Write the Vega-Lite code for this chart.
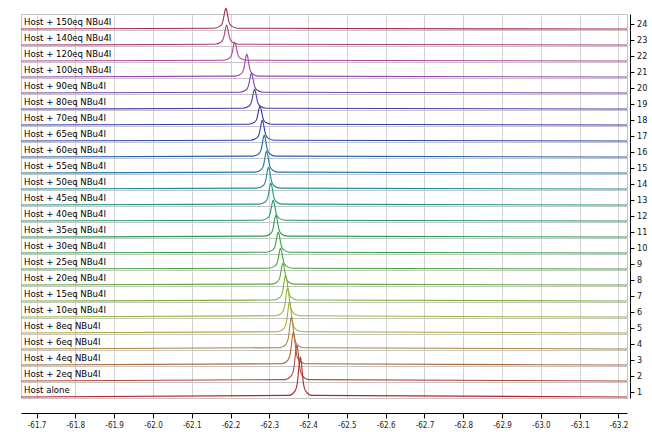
{
"$schema": "https://vega.github.io/schema/vega-lite/v6.json",
"padding": {"left": 18, "top": 5, "right": 0, "bottom": 0},
"bounds": "flush",
"config": {"view": {"stroke": "#c4c4c4"}, "font": "DejaVu Sans"},
"datasets": {
"traces": [
{"n":1,"label":"Host alone"},{"n":2,"label":"Host + 2eq NBu4I"},{"n":3,"label":"Host + 4eq NBu4I"},{"n":4,"label":"Host + 6eq NBu4I"},{"n":5,"label":"Host + 8eq NBu4I"},{"n":6,"label":"Host + 10eq NBu4I"},{"n":7,"label":"Host + 15eq NBu4I"},{"n":8,"label":"Host + 20eq NBu4I"},{"n":9,"label":"Host + 25eq NBu4I"},{"n":10,"label":"Host + 30eq NBu4I"},{"n":11,"label":"Host + 35eq NBu4I"},{"n":12,"label":"Host + 40eq NBu4I"},{"n":13,"label":"Host + 45eq NBu4I"},{"n":14,"label":"Host + 50eq NBu4I"},{"n":15,"label":"Host + 55eq NBu4I"},{"n":16,"label":"Host + 60eq NBu4I"},{"n":17,"label":"Host + 65eq NBu4I"},{"n":18,"label":"Host + 70eq NBu4I"},{"n":19,"label":"Host + 80eq NBu4I"},{"n":20,"label":"Host + 90eq NBu4I"},{"n":21,"label":"Host + 100eq NBu4I"},{"n":22,"label":"Host + 120eq NBu4I"},{"n":23,"label":"Host + 140eq NBu4I"},{"n":24,"label":"Host + 150eq NBu4I"}
],
"spectra": [
{"n":1,"p":-61.66,"v":0},{"n":1,"p":-62.35,"v":1.6},{"n":1,"p":-62.366,"v":5.9},{"n":1,"p":-62.372,"v":13.5},{"n":1,"p":-62.375,"v":24.4},{"n":1,"p":-62.3775,"v":34.5},{"n":1,"p":-62.38,"v":40},{"n":1,"p":-62.3825,"v":34.5},{"n":1,"p":-62.385,"v":24.4},{"n":1,"p":-62.388,"v":13.5},{"n":1,"p":-62.394,"v":5.9},{"n":1,"p":-62.41,"v":1.6},{"n":1,"p":-63.222,"v":0},
{"n":2,"p":-61.66,"v":0},{"n":2,"p":-62.341,"v":1.4},{"n":2,"p":-62.357,"v":5.3},{"n":2,"p":-62.363,"v":12.2},{"n":2,"p":-62.366,"v":22},{"n":2,"p":-62.3685,"v":31},{"n":2,"p":-62.371,"v":36},{"n":2,"p":-62.3735,"v":31},{"n":2,"p":-62.376,"v":22},{"n":2,"p":-62.379,"v":12.2},{"n":2,"p":-62.385,"v":5.3},{"n":2,"p":-62.401,"v":1.4},{"n":2,"p":-63.222,"v":0},
{"n":3,"p":-61.66,"v":0},{"n":3,"p":-62.332,"v":1.3},{"n":3,"p":-62.348,"v":4.9},{"n":3,"p":-62.354,"v":11.2},{"n":3,"p":-62.357,"v":20.1},{"n":3,"p":-62.3595,"v":28.4},{"n":3,"p":-62.362,"v":33},{"n":3,"p":-62.3645,"v":28.4},{"n":3,"p":-62.367,"v":20.1},{"n":3,"p":-62.37,"v":11.2},{"n":3,"p":-62.376,"v":4.9},{"n":3,"p":-62.392,"v":1.3},{"n":3,"p":-63.222,"v":0},
{"n":4,"p":-61.66,"v":0},{"n":4,"p":-62.327,"v":1.3},{"n":4,"p":-62.343,"v":4.7},{"n":4,"p":-62.349,"v":10.8},{"n":4,"p":-62.352,"v":19.5},{"n":4,"p":-62.3545,"v":27.6},{"n":4,"p":-62.357,"v":32},{"n":4,"p":-62.3595,"v":27.6},{"n":4,"p":-62.362,"v":19.5},{"n":4,"p":-62.365,"v":10.8},{"n":4,"p":-62.371,"v":4.7},{"n":4,"p":-62.387,"v":1.3},{"n":4,"p":-63.222,"v":0},
{"n":5,"p":-61.66,"v":0},{"n":5,"p":-62.322,"v":1.2},{"n":5,"p":-62.338,"v":4.6},{"n":5,"p":-62.344,"v":10.5},{"n":5,"p":-62.347,"v":18.9},{"n":5,"p":-62.3495,"v":26.7},{"n":5,"p":-62.352,"v":31},{"n":5,"p":-62.3545,"v":26.7},{"n":5,"p":-62.357,"v":18.9},{"n":5,"p":-62.36,"v":10.5},{"n":5,"p":-62.366,"v":4.6},{"n":5,"p":-62.382,"v":1.2},{"n":5,"p":-63.222,"v":0},
{"n":6,"p":-61.66,"v":0},{"n":6,"p":-62.317,"v":1.2},{"n":6,"p":-62.333,"v":4.3},{"n":6,"p":-62.339,"v":9.8},{"n":6,"p":-62.342,"v":17.7},{"n":6,"p":-62.3445,"v":25},{"n":6,"p":-62.347,"v":29},{"n":6,"p":-62.3495,"v":25},{"n":6,"p":-62.352,"v":17.7},{"n":6,"p":-62.355,"v":9.8},{"n":6,"p":-62.361,"v":4.3},{"n":6,"p":-62.377,"v":1.2},{"n":6,"p":-63.222,"v":0},
{"n":7,"p":-61.66,"v":0},{"n":7,"p":-62.312,"v":1},{"n":7,"p":-62.328,"v":3.8},{"n":7,"p":-62.334,"v":8.8},{"n":7,"p":-62.337,"v":15.9},{"n":7,"p":-62.3395,"v":22.4},{"n":7,"p":-62.342,"v":26},{"n":7,"p":-62.3445,"v":22.4},{"n":7,"p":-62.347,"v":15.9},{"n":7,"p":-62.35,"v":8.8},{"n":7,"p":-62.356,"v":3.8},{"n":7,"p":-62.372,"v":1},{"n":7,"p":-63.222,"v":0},
{"n":8,"p":-61.66,"v":0},{"n":8,"p":-62.305,"v":0.9},{"n":8,"p":-62.321,"v":3.3},{"n":8,"p":-62.327,"v":7.4},{"n":8,"p":-62.33,"v":13.4},{"n":8,"p":-62.3325,"v":19},{"n":8,"p":-62.335,"v":22},{"n":8,"p":-62.3375,"v":19},{"n":8,"p":-62.34,"v":13.4},{"n":8,"p":-62.343,"v":7.4},{"n":8,"p":-62.349,"v":3.3},{"n":8,"p":-62.365,"v":0.9},{"n":8,"p":-63.222,"v":0},
{"n":9,"p":-61.66,"v":0},{"n":9,"p":-62.299,"v":0.8},{"n":9,"p":-62.315,"v":3.1},{"n":9,"p":-62.321,"v":7.1},{"n":9,"p":-62.324,"v":12.8},{"n":9,"p":-62.3265,"v":18.1},{"n":9,"p":-62.329,"v":21},{"n":9,"p":-62.3315,"v":18.1},{"n":9,"p":-62.334,"v":12.8},{"n":9,"p":-62.337,"v":7.1},{"n":9,"p":-62.343,"v":3.1},{"n":9,"p":-62.359,"v":0.8},{"n":9,"p":-63.222,"v":0},
{"n":10,"p":-61.66,"v":0},{"n":10,"p":-62.293,"v":0.8},{"n":10,"p":-62.309,"v":3.1},{"n":10,"p":-62.315,"v":7.1},{"n":10,"p":-62.318,"v":12.8},{"n":10,"p":-62.3205,"v":18.1},{"n":10,"p":-62.323,"v":21},{"n":10,"p":-62.3255,"v":18.1},{"n":10,"p":-62.328,"v":12.8},{"n":10,"p":-62.331,"v":7.1},{"n":10,"p":-62.337,"v":3.1},{"n":10,"p":-62.353,"v":0.8},{"n":10,"p":-63.222,"v":0},
{"n":11,"p":-61.66,"v":0},{"n":11,"p":-62.287,"v":0.9},{"n":11,"p":-62.303,"v":3.3},{"n":11,"p":-62.309,"v":7.4},{"n":11,"p":-62.312,"v":13.4},{"n":11,"p":-62.3145,"v":19},{"n":11,"p":-62.317,"v":22},{"n":11,"p":-62.3195,"v":19},{"n":11,"p":-62.322,"v":13.4},{"n":11,"p":-62.325,"v":7.4},{"n":11,"p":-62.331,"v":3.3},{"n":11,"p":-62.347,"v":0.9},{"n":11,"p":-63.222,"v":0},
{"n":12,"p":-61.66,"v":0},{"n":12,"p":-62.28,"v":0.8},{"n":12,"p":-62.296,"v":3.1},{"n":12,"p":-62.302,"v":7.1},{"n":12,"p":-62.305,"v":12.8},{"n":12,"p":-62.3075,"v":18.1},{"n":12,"p":-62.31,"v":21},{"n":12,"p":-62.3125,"v":18.1},{"n":12,"p":-62.315,"v":12.8},{"n":12,"p":-62.318,"v":7.1},{"n":12,"p":-62.324,"v":3.1},{"n":12,"p":-62.34,"v":0.8},{"n":12,"p":-63.222,"v":0},
{"n":13,"p":-61.66,"v":0},{"n":13,"p":-62.274,"v":0.9},{"n":13,"p":-62.29,"v":3.3},{"n":13,"p":-62.296,"v":7.4},{"n":13,"p":-62.299,"v":13.4},{"n":13,"p":-62.3015,"v":19},{"n":13,"p":-62.304,"v":22},{"n":13,"p":-62.3065,"v":19},{"n":13,"p":-62.309,"v":13.4},{"n":13,"p":-62.312,"v":7.4},{"n":13,"p":-62.318,"v":3.3},{"n":13,"p":-62.334,"v":0.9},{"n":13,"p":-63.222,"v":0},
{"n":14,"p":-61.66,"v":0},{"n":14,"p":-62.268,"v":0.9},{"n":14,"p":-62.284,"v":3.3},{"n":14,"p":-62.29,"v":7.4},{"n":14,"p":-62.293,"v":13.4},{"n":14,"p":-62.2955,"v":19},{"n":14,"p":-62.298,"v":22},{"n":14,"p":-62.3005,"v":19},{"n":14,"p":-62.303,"v":13.4},{"n":14,"p":-62.306,"v":7.4},{"n":14,"p":-62.312,"v":3.3},{"n":14,"p":-62.328,"v":0.9},{"n":14,"p":-63.222,"v":0},
{"n":15,"p":-61.66,"v":0},{"n":15,"p":-62.263,"v":0.9},{"n":15,"p":-62.279,"v":3.3},{"n":15,"p":-62.285,"v":7.4},{"n":15,"p":-62.288,"v":13.4},{"n":15,"p":-62.2905,"v":19},{"n":15,"p":-62.293,"v":22},{"n":15,"p":-62.2955,"v":19},{"n":15,"p":-62.298,"v":13.4},{"n":15,"p":-62.301,"v":7.4},{"n":15,"p":-62.307,"v":3.3},{"n":15,"p":-62.323,"v":0.9},{"n":15,"p":-63.222,"v":0},
{"n":16,"p":-61.66,"v":0},{"n":16,"p":-62.257,"v":0.9},{"n":16,"p":-62.273,"v":3.3},{"n":16,"p":-62.279,"v":7.4},{"n":16,"p":-62.282,"v":13.4},{"n":16,"p":-62.2845,"v":19},{"n":16,"p":-62.287,"v":22},{"n":16,"p":-62.2895,"v":19},{"n":16,"p":-62.292,"v":13.4},{"n":16,"p":-62.295,"v":7.4},{"n":16,"p":-62.301,"v":3.3},{"n":16,"p":-62.317,"v":0.9},{"n":16,"p":-63.222,"v":0},
{"n":17,"p":-61.66,"v":0},{"n":17,"p":-62.252,"v":0.8},{"n":17,"p":-62.268,"v":3.1},{"n":17,"p":-62.274,"v":7.1},{"n":17,"p":-62.277,"v":12.8},{"n":17,"p":-62.2795,"v":18.1},{"n":17,"p":-62.282,"v":21},{"n":17,"p":-62.2845,"v":18.1},{"n":17,"p":-62.287,"v":12.8},{"n":17,"p":-62.29,"v":7.1},{"n":17,"p":-62.296,"v":3.1},{"n":17,"p":-62.312,"v":0.8},{"n":17,"p":-63.222,"v":0},
{"n":18,"p":-61.66,"v":0},{"n":18,"p":-62.246,"v":0.8},{"n":18,"p":-62.262,"v":2.8},{"n":18,"p":-62.268,"v":6.4},{"n":18,"p":-62.271,"v":11.6},{"n":18,"p":-62.2735,"v":16.4},{"n":18,"p":-62.276,"v":19},{"n":18,"p":-62.2785,"v":16.4},{"n":18,"p":-62.281,"v":11.6},{"n":18,"p":-62.284,"v":6.4},{"n":18,"p":-62.29,"v":2.8},{"n":18,"p":-62.306,"v":0.8},{"n":18,"p":-63.222,"v":0},
{"n":19,"p":-61.66,"v":0},{"n":19,"p":-62.232,"v":0.8},{"n":19,"p":-62.248,"v":3},{"n":19,"p":-62.254,"v":6.8},{"n":19,"p":-62.257,"v":12.2},{"n":19,"p":-62.2595,"v":17.2},{"n":19,"p":-62.262,"v":20},{"n":19,"p":-62.2645,"v":17.2},{"n":19,"p":-62.267,"v":12.2},{"n":19,"p":-62.27,"v":6.8},{"n":19,"p":-62.276,"v":3},{"n":19,"p":-62.292,"v":0.8},{"n":19,"p":-63.222,"v":0},
{"n":20,"p":-61.66,"v":0},{"n":20,"p":-62.224,"v":0.8},{"n":20,"p":-62.24,"v":3},{"n":20,"p":-62.246,"v":6.8},{"n":20,"p":-62.249,"v":12.2},{"n":20,"p":-62.2515,"v":17.2},{"n":20,"p":-62.254,"v":20},{"n":20,"p":-62.2565,"v":17.2},{"n":20,"p":-62.259,"v":12.2},{"n":20,"p":-62.262,"v":6.8},{"n":20,"p":-62.268,"v":3},{"n":20,"p":-62.284,"v":0.8},{"n":20,"p":-63.222,"v":0},
{"n":21,"p":-61.66,"v":0},{"n":21,"p":-62.212,"v":0.9},{"n":21,"p":-62.228,"v":3.4},{"n":21,"p":-62.234,"v":7.8},{"n":21,"p":-62.237,"v":14},{"n":21,"p":-62.2395,"v":19.8},{"n":21,"p":-62.242,"v":23},{"n":21,"p":-62.2445,"v":19.8},{"n":21,"p":-62.247,"v":14},{"n":21,"p":-62.25,"v":7.8},{"n":21,"p":-62.256,"v":3.4},{"n":21,"p":-62.272,"v":0.9},{"n":21,"p":-63.222,"v":0},
{"n":22,"p":-61.66,"v":0},{"n":22,"p":-62.181,"v":0.8},{"n":22,"p":-62.197,"v":2.8},{"n":22,"p":-62.203,"v":6.4},{"n":22,"p":-62.206,"v":11.6},{"n":22,"p":-62.2085,"v":16.4},{"n":22,"p":-62.211,"v":19},{"n":22,"p":-62.2135,"v":16.4},{"n":22,"p":-62.216,"v":11.6},{"n":22,"p":-62.219,"v":6.4},{"n":22,"p":-62.225,"v":2.8},{"n":22,"p":-62.241,"v":0.8},{"n":22,"p":-63.222,"v":0},
{"n":23,"p":-61.66,"v":0},{"n":23,"p":-62.16,"v":0.8},{"n":23,"p":-62.176,"v":3},{"n":23,"p":-62.182,"v":6.8},{"n":23,"p":-62.185,"v":12.2},{"n":23,"p":-62.1875,"v":17.2},{"n":23,"p":-62.19,"v":20},{"n":23,"p":-62.1925,"v":17.2},{"n":23,"p":-62.195,"v":12.2},{"n":23,"p":-62.198,"v":6.8},{"n":23,"p":-62.204,"v":3},{"n":23,"p":-62.22,"v":0.8},{"n":23,"p":-63.222,"v":0},
{"n":24,"p":-61.66,"v":0},{"n":24,"p":-62.158,"v":0.8},{"n":24,"p":-62.174,"v":3.1},{"n":24,"p":-62.18,"v":7.1},{"n":24,"p":-62.183,"v":12.8},{"n":24,"p":-62.1855,"v":18.1},{"n":24,"p":-62.188,"v":21},{"n":24,"p":-62.1905,"v":18.1},{"n":24,"p":-62.193,"v":12.8},{"n":24,"p":-62.196,"v":7.1},{"n":24,"p":-62.202,"v":3.1},{"n":24,"p":-62.218,"v":0.8},{"n":24,"p":-63.222,"v":0}
]
},
"data": {"name": "spectra"},
"transform": [{"lookup": "n", "from": {"data": {"name": "traces"}, "key": "n", "fields": ["label"]}}],
"facet": {"row": {"field": "n", "type": "ordinal", "sort": "descending",
  "header": {"title": null, "labels": false}}},
"spacing": {"row": 0},
"spec": {
  "width": 606,
  "height": 16,
  "layer": [
    {"mark": {"type": "line", "interpolate": "monotone", "strokeWidth": 1.1},
     "encoding": {
       "x": {"field": "p", "type": "quantitative", "title": "f1 (ppm)",
         "scale": {"domain": [-61.66, -63.222], "nice": false, "zero": false},
         "axis": {"values": [-61.7,-61.75,-61.8,-61.85,-61.9,-61.95,-62,-62.05,-62.1,-62.15,-62.2,-62.25,-62.3,-62.35,-62.4,-62.45,-62.5,-62.55,-62.6,-62.65,-62.7,-62.75,-62.8,-62.85,-62.9,-62.95,-63,-63.05,-63.1,-63.15,-63.2],
           "labelExpr": "abs(round(datum.value*10)-datum.value*10)<0.01 ? '-' + format(abs(datum.value),'.1f') : ''",
           "tickSize": {"condition": {"test": "abs(round(datum.value*10)-datum.value*10)<0.01", "value": 5}, "value": 3},
           "gridOpacity": {"condition": {"test": "abs(round(datum.value*10)-datum.value*10)<0.01", "value": 1}, "value": 0},
           "grid": true, "gridColor": "#d2d2d2", "domainColor": "#000", "tickColor": "#000", "offset": 15,
           "labelFontSize": 8, "labelFont": "DejaVu Sans Condensed, DejaVu Sans", "labelColor": "#222", "labelPadding": 3, "labelOverlap": false, "labelFlush": false,
           "titleFontSize": 9, "titleFontWeight": "normal", "titleColor": "#222", "titlePadding": 2}},
       "y": {"field": "v", "type": "quantitative",
         "scale": {"domain": [-1, 15], "nice": false, "zero": false},
         "axis": {"orient": "right", "values": [5], "labels": false, "ticks": true, "tickSize": 4, "tickColor": "#000", "domain": true, "domainColor": "#000", "grid": false, "title": null, "offset": 3}},
       "color": {"field": "n", "type": "ordinal", "legend": null,
         "scale": {"range": ["#b3242a","#b04a3a","#a8683a","#a8843c","#b0a83e","#9db444","#82b040","#5fa83c","#45a23c","#33a046","#2c9a58","#28966c","#229482","#1f8c98","#2178a8","#2460aa","#2a45a8","#3636a8","#5338a8","#7640aa","#9845b0","#ae46a0","#ae3c7c","#a82a50"]}}
     }},
    {"mark": {"type": "text", "align": "left", "baseline": "middle", "dx": 3, "fontSize": 9.5, "font": "DejaVu Sans Condensed, DejaVu Sans", "color": "#000"},
     "encoding": {
       "x": {"aggregate": "max", "field": "p", "type": "quantitative", "title": "f1 (ppm)"},
       "y": {"datum": 7.5},
       "text": {"field": "label"}
     }},
    {"mark": {"type": "text", "align": "left", "baseline": "middle", "dx": 10, "fontSize": 9, "font": "DejaVu Sans Condensed, DejaVu Sans", "color": "#111"},
     "encoding": {
       "x": {"aggregate": "min", "field": "p", "type": "quantitative", "title": "f1 (ppm)"},
       "y": {"datum": 5},
       "text": {"field": "n"}
     }}
  ]
}
}
